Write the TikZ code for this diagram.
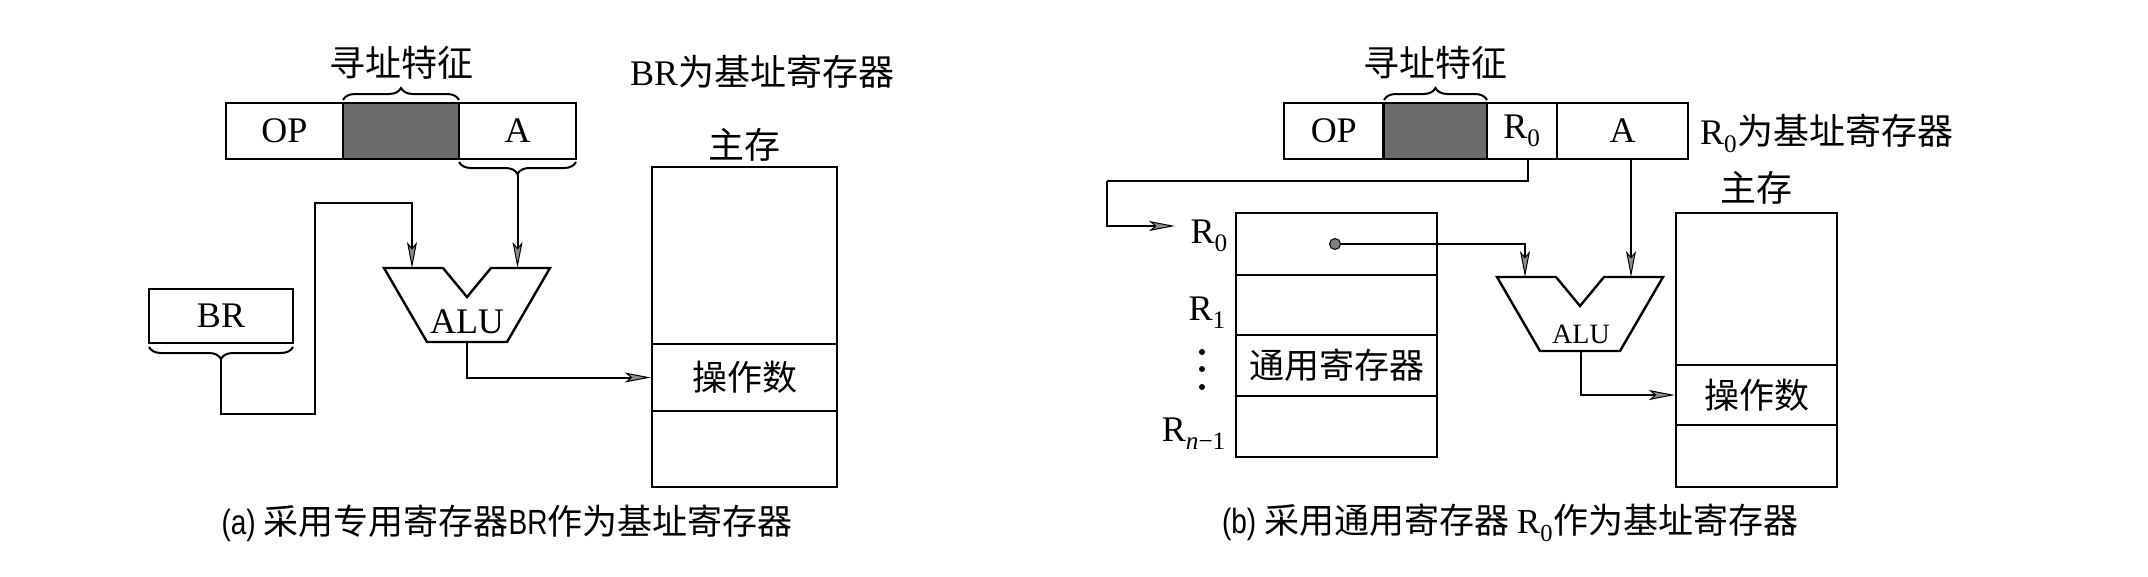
\documentclass[tikz,border=0pt]{standalone}
\usepackage{fontspec}
\setmainfont{Liberation Serif}
\newfontfamily\cjk{Noto Sans CJK SC}
\newfontfamily\capsans[FakeStretch=0.8]{Liberation Sans}
\usetikzlibrary{arrows.meta,decorations.pathreplacing}
\tikzset{
  lbl/.style={inner sep=0pt, font=\fontsize{36}{40}\selectfont},
  field/.style={draw, line width=2.4pt, inner sep=0pt, minimum height=56pt, font=\fontsize{36}{40}\selectfont},
  shadefield/.style={field, fill=black!58},
  cell/.style={draw, line width=2.4pt, inner sep=0pt, font=\fontsize{35}{40}\selectfont\cjk},
  aluline/.style={line width=2.4pt, line join=miter},
  conn/.style={line width=2pt},
  arr/.style={conn, -{Stealth[length=26pt,width=10pt,inset=6pt,fill=black!45,line width=1pt]}},
  bracestyle/.style={line width=2pt, decorate, decoration={brace, amplitude=12pt}},
  capt/.style={inner sep=0pt, font=\fontsize{35}{40}\selectfont\cjk},
  dotstyle/.style={circle, fill=black!50, draw, line width=1pt, inner sep=0pt, minimum size=11pt}
}
\begin{document}
\begin{tikzpicture}[x=1pt,y=-1pt]
\useasboundingbox (0,0) rectangle (2148,576);
\fill[white] (0,0) rectangle (2148,576);

% ================= panel (a) =================
\node[field, minimum width=117pt] (opA) at (284.5,131) {OP};
\node[shadefield, minimum width=116pt] (gA) at (401,131) {};
\node[field, minimum width=117pt] (aA) at (517.5,131) {A};
\node[lbl] (tzA) at (401,63) {\cjk 寻址特征};
\draw[bracestyle] (343,100) -- (459,100);
\draw[bracestyle] (576,162) -- (459,162);
\coordinate (aTip) at (517.5,174);
\node[lbl, anchor=west] (baseA) at (630,72) {BR{\cjk 为基址寄存器}};

\node[field, minimum width=144pt, minimum height=54pt] (brA) at (221,316) {BR};
\draw[bracestyle] (293,347) -- (149,347);
\coordinate (brTip) at (221,359);

\draw[aluline] (384,268) -- (443,268) -- (467,297) -- (491,268) -- (550,268)
  -- (507,342) -- (427,342) -- cycle;
\node[lbl] (aluA) at (467,322) {ALU};
\coordinate (aluAin1) at (412,268);
\coordinate (aluAin2) at (517.5,268);
\coordinate (aluAout) at (467,342);

\node[cell, minimum width=185pt, minimum height=177pt] (memA1) at (744.5,255.5) {};
\node[cell, minimum width=185pt, minimum height=67pt] (memA2) at (744.5,377.5) {操作数};
\node[cell, minimum width=185pt, minimum height=76pt] (memA3) at (744.5,449) {};
\node[lbl] (zcA) at (744.5,145) {\cjk 主存};

\draw[arr] (brTip) -- (221,414) -| (315,203) -| (aluAin1);
\draw[arr] (aTip) -- (aluAin2);
\draw[arr] (aluAout) |- (memA2.west);

\node[capt] (capA) at (507,523) {{\capsans (a)} 采用专用寄存器{\capsans BR}作为基址寄存器};

% ================= panel (b) =================
\node[field, minimum width=99.5pt] (opB) at (1333.75,131) {OP};
\node[shadefield, minimum width=103.5pt] (gB) at (1435.25,131) {};
\node[field, minimum width=70pt] (r0B) at (1522,131) {R\textsubscript{0}};
\node[field, minimum width=131pt] (aB) at (1622.5,131) {A};
\node[lbl] (tzB) at (1435,63) {\cjk 寻址特征};
\draw[bracestyle] (1384,100) -- (1487,100);
\node[lbl, anchor=west] (baseB) at (1700,133) {R\textsubscript{0}{\cjk 为基址寄存器}};

\node[cell, minimum width=201pt, minimum height=62pt] (reg0) at (1336.5,244) {};
\node[cell, minimum width=201pt, minimum height=60pt] (reg1) at (1336.5,305) {};
\node[cell, minimum width=201pt, minimum height=61pt] (reg2) at (1336.5,365.5) {通用寄存器};
\node[cell, minimum width=201pt, minimum height=61pt] (reg3) at (1336.5,426.5) {};
\node[lbl, anchor=east] (lR0) at (1228,236) {R\textsubscript{0}};
\node[lbl, anchor=east] (lR1) at (1226,313) {R\textsubscript{1}};
\node[lbl, anchor=east] (lRn) at (1226,434) {R\textsubscript{\textit{n}−1}};
\fill (1202,352) circle (3pt);
\fill (1202,369) circle (3pt);
\fill (1202,387) circle (3pt);
\node[dotstyle] (dotR0) at (1335,244) {};
\coordinate (regIn) at (1175,226);
\coordinate (r0Out) at (1528,159);
\coordinate (aOut) at (1631,159);

\draw[aluline] (1497,277) -- (1556,277) -- (1580,306) -- (1604,277) -- (1663,277)
  -- (1620,351) -- (1540,351) -- cycle;
\node[lbl, font=\fontsize{28}{32}\selectfont] (aluB) at (1581,334) {ALU};
\coordinate (aluBin1) at (1525,277);
\coordinate (aluBin2) at (1631,277);
\coordinate (aluBout) at (1581,351);

\node[cell, minimum width=161pt, minimum height=152pt] (memB1) at (1756.5,289) {};
\node[cell, minimum width=161pt, minimum height=60pt] (memB2) at (1756.5,395) {操作数};
\node[cell, minimum width=161pt, minimum height=62pt] (memB3) at (1756.5,456) {};
\node[lbl] (zcB) at (1756.5,188) {\cjk 主存};

\draw[conn] (r0Out) |- (1107,181);
\draw[arr] (1107,181) |- (regIn);
\draw[arr] (dotR0.east) -| (aluBin1);
\draw[arr] (aOut) -- (aluBin2);
\draw[arr] (aluBout) |- (memB2.west);

\node[capt] (capB) at (1510,523) {{\capsans (b)} 采用通用寄存器 {\rmfamily R\textsubscript{0}}作为基址寄存器};
\end{tikzpicture}
\end{document}
